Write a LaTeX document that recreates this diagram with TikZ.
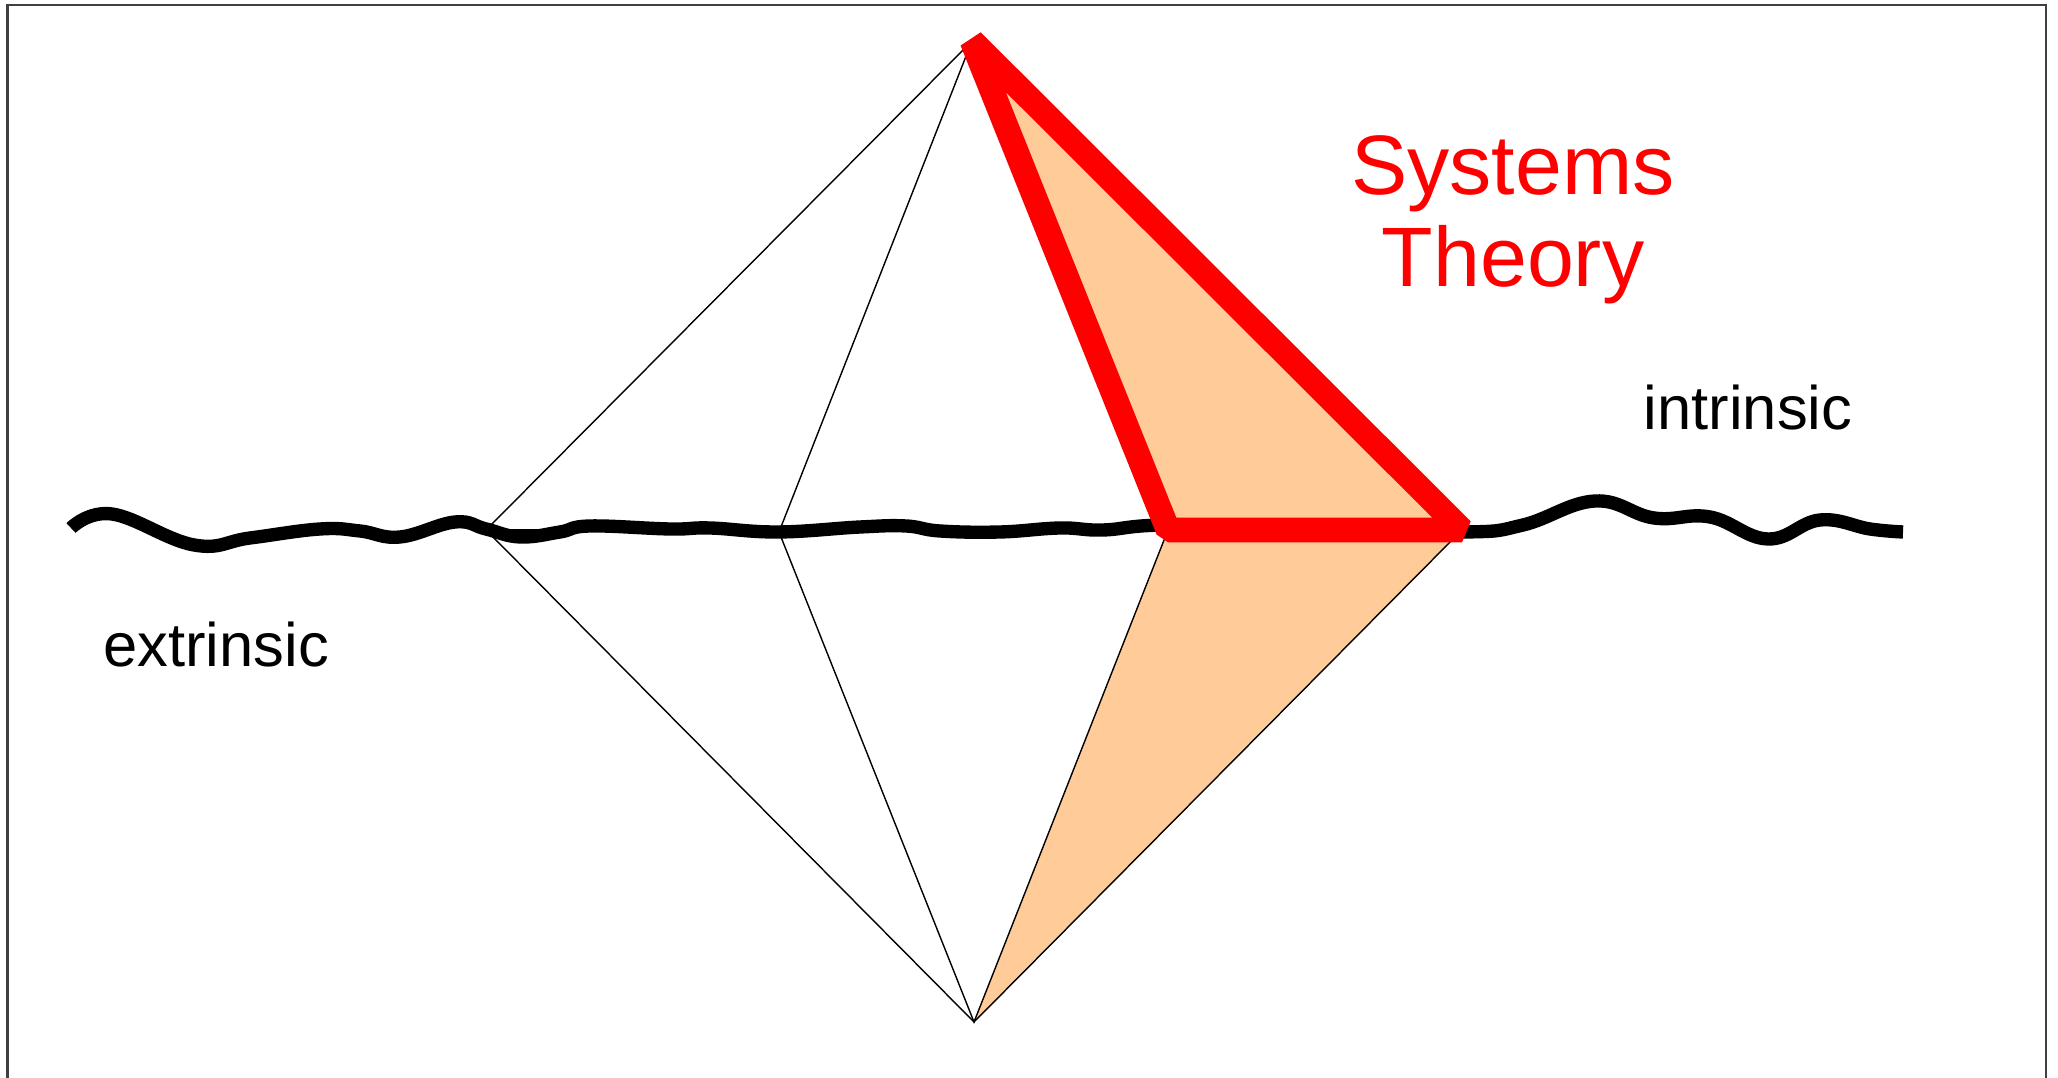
\documentclass[tikz,border=0pt]{standalone}
\usepackage{fontspec}
\setmainfont{Liberation Sans}
\definecolor{peach}{RGB}{255,204,153}

\begin{document}
\begin{tikzpicture}[line cap=butt,
  thinline/.style={black, line width=0.4pt},
  wave/.style={black, line width=3.8pt},
  redline/.style={red, line width=7pt, line join=bevel},
  lbl/.style={anchor=base, inner sep=0pt, font=\fontsize{17.5}{21}\selectfont},
  title/.style={anchor=base, inner sep=0pt, red, font=\fontsize{24}{28}\selectfont}]
  \useasboundingbox (0,0) rectangle (20.58,-10.78);
  % frame, open at the bottom
  \draw[black!75, line width=0.6pt] (0.075,-10.78) -- (0.075,-0.05) -- (20.46,-0.05) -- (20.46,-10.78);
  % corners of the double pyramid
  \coordinate (top)  at (9.72,-0.41);
  \coordinate (bot)  at (9.74,-10.22);
  \coordinate (lft)  at (4.86,-5.30);
  \coordinate (mlft) at (7.79,-5.32);
  \coordinate (mrgt) at (11.68,-5.30);
  \coordinate (rgt)  at (14.62,-5.30);
  % shaded faces
  \fill[peach] (top) -- (mrgt) -- (rgt) -- cycle;
  \fill[peach] (mrgt) -- (bot) -- (rgt) -- cycle;
  % edges
  \draw[thinline] (lft) -- (top) -- (rgt) -- (bot) -- cycle;
  \draw[thinline] (top) -- (mlft) -- (bot) -- (mrgt) -- cycle;
  \draw[thinline] (lft) -- (rgt);
  % wavy boundary
  \draw[wave] plot[smooth, tension=0.7] coordinates {
    (0.71,-5.28) (1.12,-5.14) (1.94,-5.45) (2.50,-5.38)
    (3.20,-5.29) (3.60,-5.31) (4.00,-5.37) (4.55,-5.22) (4.86,-5.29)
    (5.20,-5.37) (5.60,-5.32) (5.90,-5.26) (6.70,-5.29) (7.10,-5.28)
    (7.78,-5.32) (8.60,-5.27) (9.06,-5.26) (9.40,-5.31) (10.00,-5.32)
    (10.60,-5.28) (11.03,-5.30) (11.68,-5.25) (13.20,-5.28) (14.63,-5.32)
    (15.23,-5.25) (15.95,-5.01) (16.54,-5.18) (17.10,-5.17)
    (17.68,-5.39) (18.20,-5.20) (18.70,-5.29) (19.03,-5.32)};
  % highlighted face
  \draw[redline] (top) -- (mrgt) -- (rgt) -- cycle;
  % labels
  \node[title] (sys) at (15.13,-1.95) {Systems};
  \node[title] (thy) at (15.13,-2.87) {Theory};
  \node[lbl] (ext) at (2.16,-6.67) {extrinsic};
  \node[lbl] (int) at (17.48,-4.30) {intrinsic};
\end{tikzpicture}
\end{document}
